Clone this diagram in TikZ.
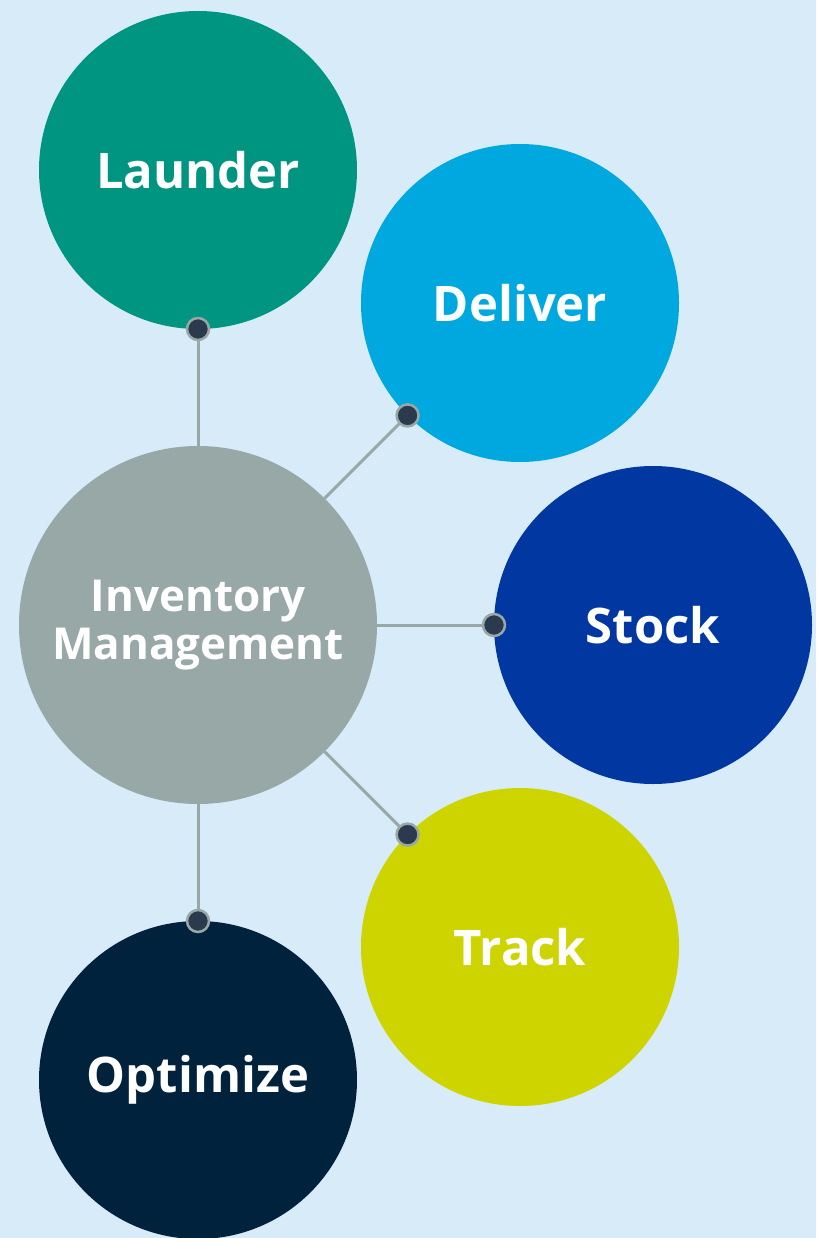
\documentclass[tikz,border=0pt]{standalone}
\usepackage{fontspec}
\setmainfont{Open Sans}
\usetikzlibrary{positioning}
\definecolor{bgblue}{HTML}{D7ECF8}
\definecolor{hubgray}{HTML}{98A8A6}
\definecolor{laundergreen}{HTML}{009580}
\definecolor{delivercyan}{HTML}{00A8E0}
\definecolor{stockblue}{HTML}{0037A0}
\definecolor{trackyellow}{HTML}{CDD400}
\definecolor{optimizenavy}{HTML}{00223D}
\definecolor{dotnavy}{HTML}{2B3A4E}
\tikzset{bubble/.style={circle, inner sep=0pt, outer sep=0pt, minimum size=318pt,
   text=white, font=\fontsize{49}{52}\selectfont\bfseries, align=center}}
\tikzset{hub/.style={bubble, minimum size=358pt, fill=hubgray,
   font=\fontsize{44}{48}\selectfont\bfseries}}
\tikzset{spoke/.style={draw=hubgray, line width=3pt}}
\tikzset{knob/.style={circle, fill=dotnavy, draw=hubgray, line width=2.5pt,
   minimum size=22pt, inner sep=0pt}}

\begin{document}
\begin{tikzpicture}[x=1pt, y=-1pt]

    \fill[bgblue] (0,0) rectangle (816,1238);
    \useasboundingbox (0,0) rectangle (816,1238);

    \node[hub] (inv) at (198,625) {Inventory\\Management};

    \node[bubble, fill=laundergreen] (launder)  at (198,170)  {Launder};
    \node[bubble, fill=delivercyan]  (deliver)  at (520,303)  {Deliver};
    \node[bubble, fill=stockblue]    (stock)    at (653,625)  {Stock};
    \node[bubble, fill=trackyellow]  (track)    at (520,947)  {Track};
    \node[bubble, fill=optimizenavy] (optimize) at (198,1080) {Optimize};

    \draw[spoke] (inv.north)      -- (launder.south);
    \draw[spoke] (inv.north east) -- (deliver.south west);
    \draw[spoke] (inv.east)       -- (stock.west);
    \draw[spoke] (inv.south east) -- (track.north west);
    \draw[spoke] (inv.south)      -- (optimize.north);

    \node[knob] (k1) at (launder.south) {};
    \node[knob] (k2) at (deliver.south west) {};
    \node[knob] (k3) at (stock.west) {};
    \node[knob] (k4) at (track.north west) {};
    \node[knob] (k5) at (optimize.north) {};

\end{tikzpicture}
\end{document}
